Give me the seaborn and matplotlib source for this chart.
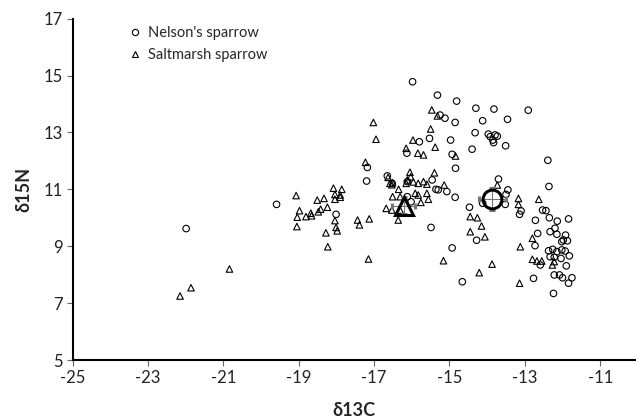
import matplotlib
matplotlib.use("Agg")
import matplotlib.pyplot as plt
from matplotlib.lines import Line2D
import seaborn as sns
import pandas as pd

# ---- data ----
nelson_d13c = [-19.59, -21.99, -18.01, -17.20, -17.18, -16.65, -16.52, -16.12, -15.46, -15.36,
               -15.30, -16.12, -16.02, -15.49, -14.93, -15.98, -15.32, -14.81, -14.30, -13.82,
               -12.91, -15.25, -15.12, -14.85, -14.12, -13.46, -14.32, -13.97, -13.92, -13.79,
               -13.73, -13.85, -13.83, -13.51, -15.53, -14.97, -15.80, -16.13, -14.40, -14.93,
               -14.84, -12.39, -13.70, -12.36, -13.45, -13.50, -13.52, -14.12, -14.47, -13.10,
               -13.14, -12.53, -12.44, -12.35, -12.72, -12.14, -11.84, -14.28, -12.66, -12.33,
               -12.20, -12.15, -11.92, -12.02, -11.98, -11.87, -12.73, -12.37, -12.26, -12.15,
               -12.02, -11.93, -11.82, -12.04, -12.22, -12.33, -12.59, -11.90, -14.66, -12.77,
               -12.22, -12.08, -12.00, -11.75, -11.84, -12.24, -15.07, -14.85]
nelson_d15n = [10.47, 9.62, 10.12, 11.29, 11.77, 11.47, 11.21, 11.27, 11.33, 11.00,
               10.98, 10.74, 10.56, 9.66, 8.94, 14.78, 14.31, 14.10, 13.85, 13.82,
               13.78, 13.61, 13.50, 13.35, 13.41, 13.46, 12.99, 12.94, 12.85, 12.91,
               12.87, 12.73, 12.64, 12.53, 12.79, 12.73, 12.67, 12.27, 12.41, 12.23,
               11.74, 12.02, 11.36, 11.10, 10.98, 10.82, 10.47, 10.51, 10.37, 10.24,
               10.12, 10.27, 10.25, 10.00, 9.91, 9.88, 9.96, 9.21, 9.45, 9.51,
               9.63, 9.42, 9.39, 9.16, 9.22, 9.19, 9.02, 8.84, 8.89, 8.81,
               8.87, 8.83, 8.66, 8.57, 8.61, 8.63, 8.34, 8.31, 7.75, 7.87,
               7.99, 7.99, 7.89, 7.89, 7.70, 7.34, 10.92, 10.72]

salt_d13c = [-22.15, -21.86, -20.84, -19.07, -18.51, -18.98, -19.04, -18.81, -18.68, -18.66,
             -18.48, -19.05, -18.08, -17.86, -18.04, -17.90, -18.04, -17.90, -18.33, -18.42,
             -18.24, -18.04, -18.01, -17.98, -18.28, -18.23, -17.44, -17.39, -17.13, -17.23,
             -17.15, -16.58, -16.53, -16.51, -16.12, -16.15, -15.96, -15.83, -15.69, -15.60,
             -16.35, -16.51, -16.31, -15.91, -15.83, -15.60, -15.56, -15.76, -16.68, -16.53,
             -16.31, -16.36, -15.16, -15.47, -15.32, -15.50, -15.97, -15.38, -16.15, -15.84,
             -15.69, -14.84, -16.05, -15.40, -16.63, -16.03, -17.02, -16.95, -13.73, -13.17,
             -13.17, -12.63, -14.45, -14.26, -14.15, -14.45, -14.06, -12.80, -13.12, -12.80,
             -12.68, -12.55, -12.27, -12.22, -13.87, -14.21, -13.14, -15.14]
salt_d15n = [7.25, 7.54, 8.20, 10.78, 10.62, 10.25, 10.02, 10.04, 10.16, 10.07,
             10.21, 9.69, 11.04, 11.00, 10.82, 10.80, 10.65, 10.72, 10.68, 10.30,
             10.37, 9.90, 9.66, 9.54, 9.47, 8.98, 9.92, 9.75, 9.96, 11.95,
             8.55, 11.21, 11.16, 11.23, 11.33, 11.21, 11.26, 11.21, 11.27, 11.18,
             11.00, 10.74, 10.74, 10.86, 10.80, 10.86, 10.65, 10.54, 10.33, 10.27,
             10.27, 9.92, 8.49, 13.79, 13.58, 13.12, 12.73, 12.48, 12.44, 12.27,
             12.21, 12.17, 11.60, 11.58, 11.42, 11.44, 13.35, 12.76, 11.15, 10.68,
             10.47, 10.65, 10.04, 10.00, 9.71, 9.51, 9.33, 9.28, 8.98, 8.54,
             8.48, 8.48, 8.34, 8.46, 8.37, 8.07, 7.70, 11.15]

species_names = ["Nelson's sparrow", "Saltmarsh sparrow"]
mean_d13c = [-13.86, -16.22]
mean_d15n = [10.66, 10.43]
sd_d13c = [0.37, 0.30]
sd_d15n = [0.37, 0.30]

x_ticks = [-25, -23, -21, -19, -17, -15, -13, -11]
y_ticks = [5, 7, 9, 11, 13, 15, 17]

# ---- styling ----
sns.set_style("white")
plt.rcParams["font.family"] = ["Lato", "DejaVu Sans"]

df = pd.DataFrame({
    "d13C": nelson_d13c + salt_d13c,
    "d15N": nelson_d15n + salt_d15n,
    "species": [species_names[0]] * len(nelson_d13c) + [species_names[1]] * len(salt_d13c),
})

fig = plt.figure(figsize=(6.36, 4.19), dpi=100)
ax = fig.add_axes([0.1143, 0.1408, 0.8857, 0.8148])

markers = {species_names[0]: "o", species_names[1]: "^"}
sns.scatterplot(data=df, x="d13C", y="d15N", style="species", markers=markers,
                s=22, facecolors="none", edgecolor="black", linewidth=0.8,
                legend=False, ax=ax, zorder=3)

mk = ["o", "^"]
msz = [13.5, 13.5]
for i in range(2):
    ax.errorbar(mean_d13c[i], mean_d15n[i], xerr=sd_d13c[i], yerr=sd_d15n[i],
                fmt=mk[i], ms=msz[i], mfc="none", mec="black", mew=2.2,
                ecolor="#777777", elinewidth=0.8, capsize=2.5, capthick=0.8, zorder=4)

ax.set_xlim(-25, -10.05)
ax.set_ylim(5, 17)
ax.set_xticks(x_ticks)
ax.set_yticks(y_ticks)
ax.set_xticklabels([str(t) for t in x_ticks])
ax.set_yticklabels([str(t) for t in y_ticks])

for s in ["top", "right"]:
    ax.spines[s].set_visible(False)
for s in ["left", "bottom"]:
    ax.spines[s].set_color("black")
    ax.spines[s].set_linewidth(1.5)

ax.tick_params(axis="both", which="major", direction="out", length=4, width=0.8,
               color="#666666", labelsize=12, labelcolor="#222222", pad=3,
               bottom=True, left=True)

ax.set_xlabel("δ13C", fontsize=13, fontweight="bold", labelpad=12)
ax.set_ylabel("δ15N", fontsize=13, fontweight="bold", labelpad=8)

handles = [Line2D([], [], marker="o", ls="none", mfc="none", mec="black", ms=4.5, mew=0.8),
           Line2D([], [], marker="^", ls="none", mfc="none", mec="black", ms=4.5, mew=0.8)]
ax.legend(handles, species_names, loc="upper left", bbox_to_anchor=(0.09, 0.995),
          frameon=False, fontsize=10.5, handlelength=0.8, handletextpad=0.5,
          labelspacing=0.55, borderaxespad=0)

fig.savefig("out.png", dpi=100)
